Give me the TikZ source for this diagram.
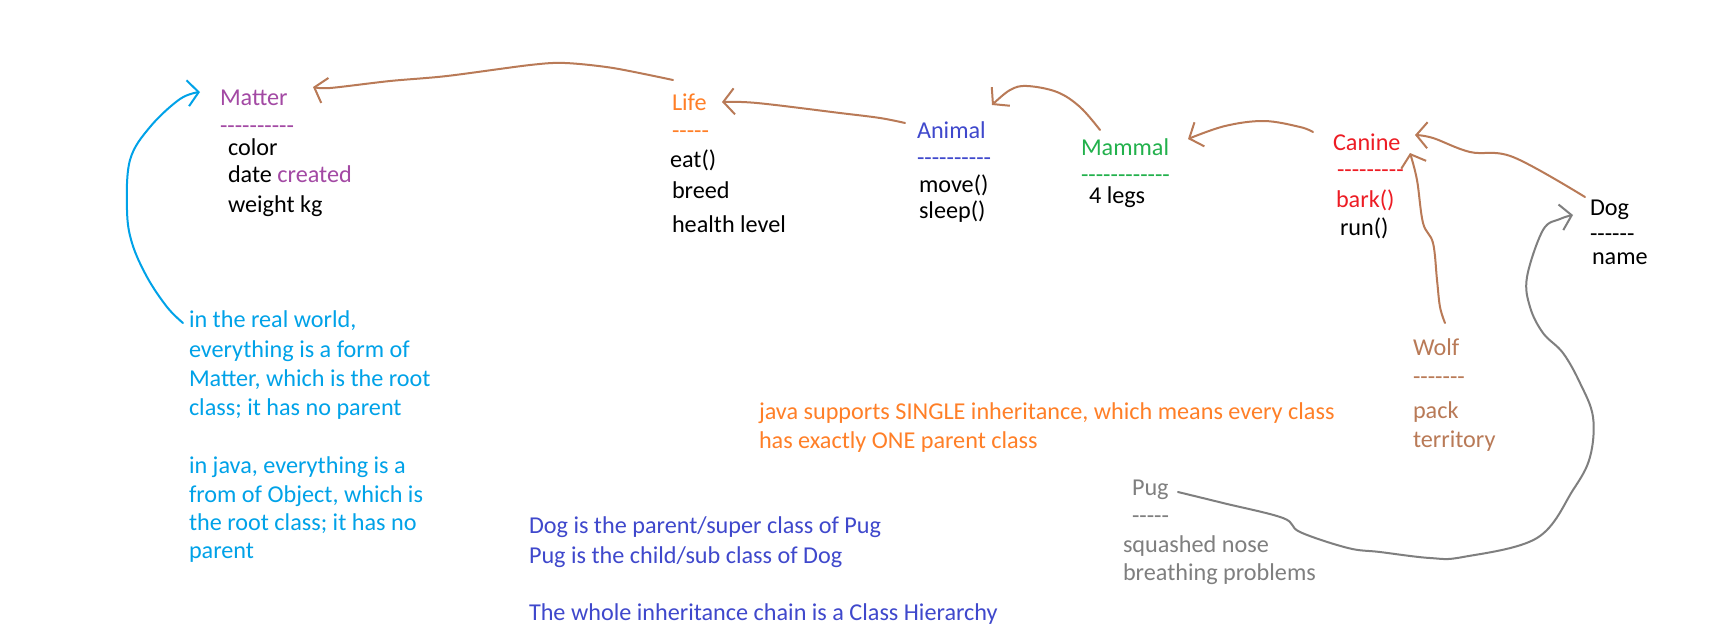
\documentclass[tikz,border=0pt]{standalone}
\usepackage{fontspec}
\setmainfont{Carlito}[Ligatures=TeXOff]
\usetikzlibrary{arrows.meta}
\definecolor{cpurple}{HTML}{A349A4}
\definecolor{corange}{HTML}{FF7F27}
\definecolor{cindigo}{HTML}{3F48CC}
\definecolor{cgreen}{HTML}{22B14C}
\definecolor{cred}{HTML}{ED1C24}
\definecolor{cbrown}{HTML}{B97A57}
\definecolor{cgray}{HTML}{7F7F7F}
\definecolor{cblue}{HTML}{00A2E8}
\tikzset{
  lbl/.style={anchor=base west, inner sep=0pt, outer sep=0pt, font=\fontsize{24.2}{29}\selectfont},
  conn/.style={line width=2pt, line cap=round, line join=round,
    -{Straight Barb[length=11pt,width=26pt,line width=2pt]}},
}
\begin{document}
\begin{tikzpicture}[x=1pt,y=-1pt]
\useasboundingbox[fill=white] (0,0) rectangle (1723,638);
% Matter
\node[lbl,text=cpurple] (matter) at (220,105) {Matter};
\node[lbl,text=cpurple] (matterd) at (220,133) {----------};
\node[lbl] (matter1) at (228,155) {color};
\node[lbl] (matter2) at (228,182) {date \textcolor{cpurple}{created}};
\node[lbl] (matter3) at (228,212) {weight kg};
% Life
\node[lbl,text=corange] (life) at (672,110) {Life};
\node[lbl,text=corange] (lifed) at (672,138) {-----};
\node[lbl] (life1) at (670,167) {eat()};
\node[lbl] (life2) at (672,198) {breed};
\node[lbl] (life3) at (672,232) {health level};
% Animal
\node[lbl,text=cindigo] (animal) at (917,138) {Animal};
\node[lbl,text=cindigo] (animald) at (917,165) {----------};
\node[lbl] (animal1) at (919,192) {move()};
\node[lbl] (animal2) at (919,218) {sleep()};
% Mammal
\node[lbl,text=cgreen] (mammal) at (1081,155) {Mammal};
\node[lbl,text=cgreen] (mammald) at (1081,182) {------------};
\node[lbl] (mammal1) at (1089,203) {4 legs};
% Canine
\node[lbl,text=cred] (canine) at (1333,150) {Canine};
\node[lbl,text=cred] (canined) at (1337,177) {---------};
\node[lbl,text=cred] (canine1) at (1336,207) {bark()};
\node[lbl] (canine2) at (1340,235) {run()};
% Dog
\node[lbl] (dog) at (1590,215) {Dog};
\node[lbl] (dogd) at (1590,241) {------};
\node[lbl] (dog1) at (1592,264) {name};
% Wolf
\node[lbl,text=cbrown] (wolf) at (1413,355) {Wolf};
\node[lbl,text=cbrown] (wolfd) at (1413,384) {-------};
\node[lbl,text=cbrown] (wolf1) at (1413,418) {pack};
\node[lbl,text=cbrown] (wolf2) at (1413,447) {territory};
% Pug
\node[lbl,text=cgray] (pug) at (1132,495) {Pug};
\node[lbl,text=cgray] (pugd) at (1132,523) {-----};
\node[lbl,text=cgray] (pug1) at (1123,552) {squashed nose};
\node[lbl,text=cgray] (pug2) at (1123,580) {breathing problems};
% notes
\node[lbl,text=cblue] (note1) at (189,327) {in the real world,};
\node[lbl,text=cblue] (note2) at (189,357) {everything is a form of};
\node[lbl,text=cblue] (note3) at (189,386) {Matter, which is the root};
\node[lbl,text=cblue] (note4) at (189,415) {class; it has no parent};
\node[lbl,text=cblue] (note5) at (189,473) {in java, everything is a};
\node[lbl,text=cblue] (note6) at (189,502) {from of Object, which is};
\node[lbl,text=cblue] (note7) at (189,530) {the root class; it has no};
\node[lbl,text=cblue] (note8) at (189,558) {parent};
\node[lbl,text=corange] (java1) at (759,419) {java supports SINGLE inheritance, which means every class};
\node[lbl,text=corange] (java2) at (759,448) {has exactly ONE parent class};
\node[lbl,text=cindigo] (dogis1) at (529,533) {Dog is the parent/super class of Pug};
\node[lbl,text=cindigo] (dogis2) at (529,563) {Pug is the child/sub class of Dog};
\node[lbl,text=cindigo] (dogis3) at (529,620) {The whole inheritance chain is a Class Hierarchy};
% connector end points
\coordinate (lifeout) at (673,80);
\coordinate (matterin) at (313,87);
\coordinate (animalout) at (905,123);
\coordinate (lifein) at (722,102);
\coordinate (mammalout) at (1100,130);
\coordinate (animalin) at (992,105);
\coordinate (canineout) at (1313,132);
\coordinate (mammalin) at (1188,139);
\coordinate (dogout) at (1585,197);
\coordinate (caninein) at (1415,135);
\coordinate (wolfout) at (1445,323);
\coordinate (caninein2) at (1410,153);
\coordinate (pugout) at (1178,492);
\coordinate (dogin) at (1573,215);
\coordinate (noteout) at (183,323);
\coordinate (matterin2) at (200,92);
% connectors
\draw[conn,cbrown] plot[smooth,tension=0.5] coordinates {(lifeout) (613,68) (565,63) (530,65) (447,76) (390,81) (330,88) (matterin)};
\draw[conn,cbrown] plot[smooth,tension=0.6] coordinates {(animalout) (880,118) (840,113) (757,103) (lifein)};
\draw[conn,cbrown] plot[smooth,tension=0.6] coordinates {(mammalout) (1080,107) (1057,92) (1027,86) (1010,90) (animalin)};
\draw[conn,cbrown] plot[smooth,tension=0.6] coordinates {(canineout) (1300,127) (1264,121) (1225,126) (mammalin)};
\draw[conn,cbrown] plot[smooth,tension=0.6] coordinates {(dogout) (1513,157) (1470,152) (1433,138) (caninein)};
\draw[conn,cbrown] plot[smooth,tension=0.6] coordinates {(wolfout) (1440,307) (1437,280) (1433,243) (1423,223) (1417,180) (caninein2)};
\draw[conn,cgray] plot[smooth,tension=0.6] coordinates {(pugout) (1223,503) (1283,518) (1300,532) (1348,548) (1380,552) (1430,558) (1463,557) (1537,538) (1573,490) (1590,457) (1593,417) (1580,383) (1563,353) (1543,333) (1530,307) (1527,277) (1543,230) (1560,219) (dogin)};
\draw[conn,cblue] plot[smooth,tension=0.6] coordinates {(noteout) (167,307) (147,277) (132,243) (127,210) (130,160) (150,127) (180,99) (matterin2)};
\end{tikzpicture}
\end{document}
